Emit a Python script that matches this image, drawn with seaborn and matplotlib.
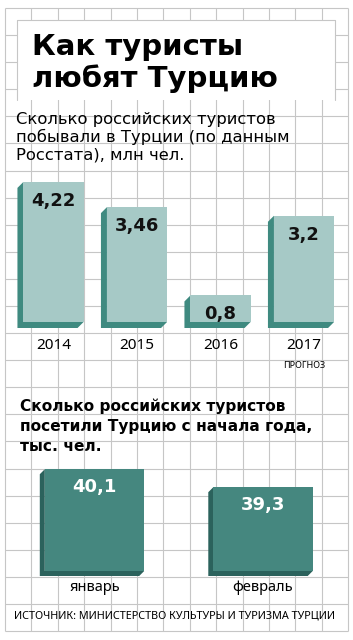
import matplotlib
matplotlib.use('Agg')
import matplotlib.pyplot as plt
import seaborn as sns
from matplotlib.patches import Polygon, Rectangle
import numpy as np

# data
years = ['2014', '2015', '2016', '2017']
tourists_mln = [4.22, 3.46, 0.8, 3.2]
months = ['январь', 'февраль']
tourists_k = [40.1, 39.3]

title = ['Как туристы', 'любят Турцию']
sub1 = ['Сколько российских туристов', 'побывали в Турции (по данным', 'Росстата), млн чел.']
sub2 = ['Сколько российских туристов', 'посетили Турцию с начала года,', 'тыс. чел.']
source = 'ИСТОЧНИК: МИНИСТЕРСТВО КУЛЬТУРЫ И ТУРИЗМА ТУРЦИИ'

sns.set_theme(style='white')
plt.rcParams['font.family'] = ['DejaVu Sans']
plt.rcParams['text.color'] = 'black'
narrow = dict(family=['Noto Sans', 'DejaVu Sans'])

W, H = 353, 640
fig = plt.figure(figsize=(W / 100, H / 100), dpi=100)
fig.patch.set_facecolor('white')

# background grid in pixel coords
bg = fig.add_axes([0, 0, 1, 1], zorder=0)
bg.set_xlim(0, W); bg.set_ylim(H, 0); bg.axis('off')
gc = '#c6c6c6'
xs = 5 + 26.4 * np.arange(14)
ys = 8 + 27.09 * np.arange(24)
bg.vlines(xs, ys[0], ys[-1], color=gc, lw=0.8)
bg.hlines(ys, xs[0], xs[-1], color=gc, lw=0.8)

# title box
bg.add_patch(Rectangle((17, 20), 318, 80, fc='white', ec='none', zorder=2))
bg.plot([17, 17, 335, 335], [100, 20, 20, 100], color=gc, lw=0.8, zorder=3)
for i, s in enumerate(title):
    bg.text(32, 55 + 32 * i, s, fontsize=21, fontweight='bold', va='baseline', zorder=4)

for i, s in enumerate(sub1):
    bg.text(16, 124 + 18 * i, s, fontsize=11.8, va='baseline', zorder=4)
for i, s in enumerate(sub2):
    bg.text(20, 411 + 20 * i, s, fontsize=11.1, fontweight='bold', va='baseline', zorder=4)
bg.text(174, 616, source, fontsize=7.8, ha='center', va='center', zorder=4, **narrow)


def px_axes(left, top, width, height):
    ax = fig.add_axes([left / W, 1 - (top + height) / H, width / W, height / H], zorder=5)
    ax.set_facecolor('none')
    return ax


def extrude(ax, d, color):
    x0l, x1l = ax.get_xlim(); y0l, y1l = ax.get_ylim()
    dx = d * (x1l - x0l) / ax.bbox.width
    dy = d * (y1l - y0l) / ax.bbox.height
    for p in list(ax.patches):
        x0 = p.get_x(); x1 = x0 + p.get_width()
        b = max(p.get_y(), y0l); t = p.get_y() + p.get_height()
        verts = [(x0, t), (x0 - dx, t - dy), (x0 - dx, b - dy), (x1 - dx, b - dy), (x1, b), (x0, b)]
        ax.add_patch(Polygon(verts, closed=True, fc=color, ec='none', zorder=2, clip_on=False))


def style(ax):
    sns.despine(ax=ax, left=True, bottom=True)
    ax.set_yticks([]); ax.set_ylabel(''); ax.set_xlabel('')
    ax.grid(False)


# chart 1
ax1 = px_axes(11.75, 156, 334, 166)
sns.barplot(x=years, y=tourists_mln, ax=ax1, color='#a6c9c6', width=0.72, saturation=1,
            linewidth=0, zorder=3)
ax1.set_xlim(-0.5, 3.5); ax1.set_ylim(0, 5)
style(ax1)
extrude(ax1, 6, '#3f8a80')
ax1.tick_params(axis='x', length=0, pad=11.5)
ax1.set_xticks(range(len(years)))
ax1.set_xticklabels(years, fontsize=11, color='black', **narrow)
for i, v in enumerate(tourists_mln):
    ax1.annotate(f'{v:g}'.replace('.', ','), xy=(i, v), xytext=(0, -13.5), textcoords='offset points',
                 ha='center', va='center', fontsize=13, fontweight='bold', color='#111111', zorder=4)
ax1.annotate('ПРОГНОЗ', xy=(3, 0), xytext=(0, -31), textcoords='offset points',
             ha='center', va='center', fontsize=6.5, color='black', **narrow)

# chart 2
ax2 = px_axes(10.25, 449, 337, 122)
sns.barplot(x=months, y=tourists_k, ax=ax2, color='#45877f', width=0.59, saturation=1,
            linewidth=0, zorder=3)
ax2.set_xlim(-0.5, 1.5); ax2.set_ylim(35.57, 41.0)
style(ax2)
extrude(ax2, 5, '#2b625c')
ax2.tick_params(axis='x', length=0, pad=6.5)
ax2.set_xticks(range(len(months)))
ax2.set_xticklabels(months, fontsize=10.5, color='black', **narrow)
for i, v in enumerate(tourists_k):
    ax2.annotate(f'{v:g}'.replace('.', ','), xy=(i, v), xytext=(0, -13), textcoords='offset points',
                 ha='center', va='center', fontsize=13, fontweight='bold', color='white', zorder=4)

fig.savefig('out.png', dpi=100)
